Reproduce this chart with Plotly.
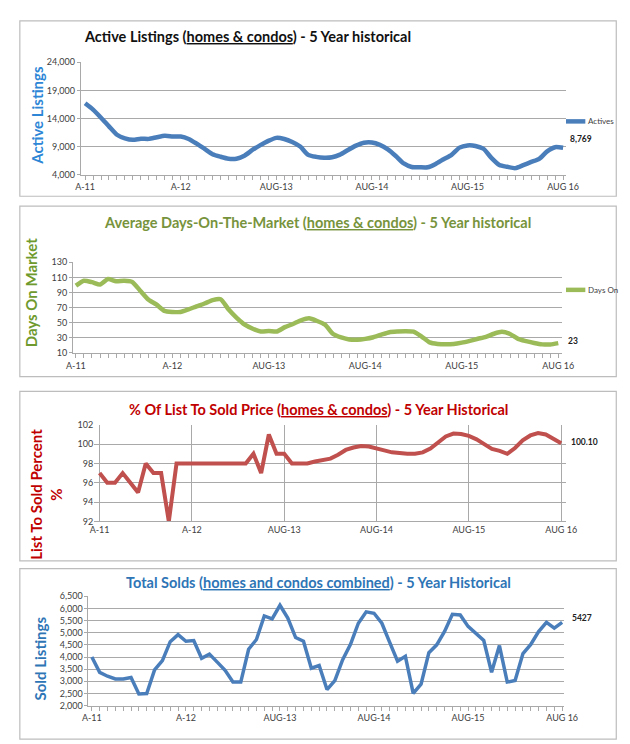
import plotly.graph_objects as go

W, H = 630, 744

# ---------------- data ----------------
tick_pos = [0, 12, 24, 36, 48, 60]
tick_text = ["A-11", "A-12", "AUG-13", "AUG-14", "AUG-15", "AUG 16"]

active_listings = [16700, 15570, 14130, 12590, 11100, 10460, 10190, 10380, 10360, 10650,
                   10900, 10800, 10780, 10340, 9510, 8580, 7630, 7180, 6830, 6830,
                   7360, 8380, 9240, 10000, 10540, 10340, 9810, 9000, 7520, 7160,
                   7000, 7080, 7560, 8390, 9150, 9680, 9720, 9300, 8490, 7310,
                   5980, 5350, 5300, 5300, 5900, 6740, 7520, 8800, 9190, 9100,
                   8600, 6970, 5690, 5380, 5150, 5680, 6250, 6800, 8140, 8880, 8769]

days_on_market = [99, 105.5, 103.7, 100.5, 107.8, 104.9, 105.5, 104, 92.4, 80.8,
                  74.2, 65.7, 64.3, 64.2, 67.6, 71.6, 75.4, 79.8, 81, 67.4,
                  56.4, 47.4, 42, 38.4, 39, 38.3, 44.1, 48.3, 53.2, 55.8,
                  52.3, 47.2, 35, 30.5, 27.8, 27.4, 28.6, 30.8, 34.2, 37.4,
                  38.3, 38.7, 38.1, 31.7, 23.9, 21.8, 21.3, 21.8, 23.6, 26,
                  28.7, 31.3, 35.4, 37.9, 35.1, 28.6, 25.6, 23.1, 21.3, 21.2, 23]

list_to_sold = [97, 96, 96, 97, 96, 95, 98, 97, 97, 92,
                98, 98, 98, 98, 98, 98, 98, 98, 98, 98,
                99, 97, 101, 99, 99, 98, 98, 98, 98.2, 98.3,
                98.5, 98.9, 99.4, 99.65, 99.8, 99.75, 99.6, 99.35, 99.15, 99.05,
                99, 99, 99.15, 99.55, 100.2, 100.8, 101.1, 101.05, 100.85, 100.5,
                100.0, 99.5, 99.3, 99.0, 99.6, 100.4, 100.9, 101.15, 101.0, 100.6, 100.1]

total_solds = [4000, 3370, 3210, 3100, 3100, 3160, 2480, 2500, 3470, 3850,
               4630, 4920, 4650, 4680, 3950, 4120, 3790, 3450, 2970, 2970,
               4320, 4720, 5690, 5570, 6130, 5600, 4800, 4650, 3540, 3650,
               2660, 3030, 3890, 4520, 5390, 5860, 5800, 5390, 4600, 3830,
               4030, 2500, 2880, 4180, 4500, 5050, 5760, 5730, 5260, 4990,
               4680, 3370, 4470, 2970, 3030, 4140, 4520, 5050, 5430, 5190, 5427]

last_labels = ["8,769", "23", "100.10", "5427"]
legend_names = ["Actives", "Days On", None, None]

# ---------------- helpers ----------------
def px(x):
    return x / W

def py(y):
    return 1 - y / H

FONT = "Lato, 'Open Sans', Arial, sans-serif"
GRID = "#a9a9a9"
TICKC = "#404040"

fig = go.Figure()

# panel geometry (pixels): axis start, grid end, line start, line end, y top, y bottom
panels = [
    dict(ax0=68, ax1=570, l0=72.5, l1=567, yt=49, yb=163, rng=[4000, 24000],
         yt_vals=[4000, 9000, 14000, 19000, 24000], fmt=",d", leg_y=109),
    dict(ax0=60, ax1=566, l0=63, l1=562, yt=252, yb=344, rng=[10, 130],
         yt_vals=[10, 30, 50, 70, 90, 110, 130], fmt="d", leg_y=280),
    dict(ax0=82, ax1=570, l0=87.5, l1=565, yt=417, yb=515, rng=[92, 102],
         yt_vals=[92, 94, 96, 98, 100, 102], fmt="d", leg_y=None),
    dict(ax0=76, ax1=568, l0=79.5, l1=566, yt=591, yb=702, rng=[2000, 6500],
         yt_vals=list(range(2000, 7000, 500)), fmt=",d", leg_y=None),
]

series = [active_listings, days_on_market, list_to_sold, total_solds]
colors = ["#4a7ebb", "#9bbb59", "#c0504d", "#4a7ebb"]
widths = [4.5, 4.5, 4, 3.5]
shapes_line = ["spline", "spline", "linear", "linear"]
ticked = (1, 2, 4)

ann = []
shapes = []

for i, (vals, p) in enumerate(zip(series, panels)):
    n = i + 1
    xs = list(range(len(vals)))
    line = dict(color=colors[i], width=widths[i], shape=shapes_line[i])
    if shapes_line[i] == "spline":
        line["smoothing"] = 0.6
    fig.add_trace(go.Scatter(x=xs, y=vals, mode="lines", name=legend_names[i] or "",
                             line=line, showlegend=False, hoverinfo="skip",
                             xaxis="x" if n == 1 else f"x{n}",
                             yaxis="y" if n == 1 else f"y{n}"))

    s = (p["l1"] - p["l0"]) / (len(vals) - 1)
    xr = [(p["ax0"] - p["l0"]) / s, (len(vals) - 1) + (p["ax1"] - p["l1"]) / s]

    xa = dict(domain=[px(p["ax0"]), px(p["ax1"])], range=xr, anchor="y" if n == 1 else f"y{n}",
              tickmode="array", tickvals=tick_pos, ticktext=tick_text,
              showgrid=(n == 3), gridcolor=GRID, gridwidth=1,
              showline=True, linecolor=GRID, linewidth=1, zeroline=False,
              tickfont=dict(family=FONT, size=9, color=TICKC), ticklen=0)
    if n in ticked:
        xa["ticks"] = "outside"
        xa["ticklen"] = 4
        xa["tickcolor"] = GRID
        xa["minor"] = dict(dtick=1, tick0=0, ticks="outside", ticklen=4, tickcolor=GRID, showgrid=False)
    ya = dict(domain=[py(p["yb"]), py(p["yt"])], range=p["rng"], anchor="x" if n == 1 else f"x{n}",
              tickmode="array", tickvals=p["yt_vals"], tickformat=p["fmt"],
              showgrid=True, gridcolor=GRID, gridwidth=1, zeroline=False,
              showline=(n in ticked), linecolor=GRID,
              ticks="outside" if n in ticked else "", ticklen=3, tickcolor=GRID,
              tickfont=dict(family=FONT, size=9, color=TICKC))
    fig.layout["xaxis" if n == 1 else f"xaxis{n}"] = xa
    fig.layout["yaxis" if n == 1 else f"yaxis{n}"] = ya

    # legend (sample line + name) for panels that have one
    if legend_names[i]:
        shapes.append(dict(type="line", xref="paper", yref="paper",
                           x0=px(570), x1=px(590), y0=py(p["leg_y"]), y1=py(p["leg_y"]),
                           line=dict(color=colors[i], width=widths[i])))
        ann.append(dict(text=legend_names[i], x=px(591), y=py(p["leg_y"]),
                        xref="paper", yref="paper", showarrow=False,
                        xanchor="left", yanchor="middle",
                        font=dict(family=FONT, size=8, color=TICKC)))

# ---------------- titles ----------------
titles = [
    ("Active Listings (<u>homes & condos</u>) - 5 Year historical", "#111111", 240, 23),
    ("Average Days-On-The-Market (<u>homes & condos</u>) - 5 Year historical", "#77933c", 313, 212),
    ("% Of List To Sold Price (<u>homes & condos</u>) - 5 Year Historical", "#c00000", 314, 401),
    ("Total Solds (<u>homes and condos combined</u>) - 5 Year Historical", "#2e75b6", 314, 577),
]
for t, c, x, y in titles:
    ann.append(dict(text=f"<b>{t}</b>", x=px(x), y=py(y), xref="paper", yref="paper",
                    showarrow=False, xanchor="center", yanchor="middle",
                    font=dict(family=FONT, size=14.5, color=c)))

ytitles = [
    ("Active Listings", "#2e86d6", 23, 103),
    ("Days On Market", "#6f9a2e", 16, 283),
    ("List To Sold Percent<br>%", "#c00000", 32, 487),
    ("Sold Listings", "#2e75b6", 26, 654),
]
for t, c, x, y in ytitles:
    ann.append(dict(text=f"<b>{t}</b>", x=px(x), y=py(y), xref="paper", yref="paper",
                    showarrow=False, textangle=-90, xanchor="center", yanchor="middle",
                    font=dict(family=FONT, size=15, color=c)))

shifts = [(5, 9), (8, 2), (8, 1), (8, 4)]
for i, vals in enumerate(series):
    n = i + 1
    ann.append(dict(text=f"<b>{last_labels[i]}</b>", x=len(vals) - 1, y=vals[-1],
                    xref="x" if n == 1 else f"x{n}", yref="y" if n == 1 else f"y{n}",
                    showarrow=False, xanchor="left", yanchor="middle",
                    xshift=shifts[i][0], yshift=shifts[i][1],
                    font=dict(family=FONT, size=8.5, color="#222222")))

# ---------------- panel boxes ----------------
boxes = [(5, 7, 622, 185), (5, 195, 622, 368), (5, 383, 622, 555), (5, 563, 622, 736)]
for x0, y0, x1, y1 in boxes:
    shapes.append(dict(type="rect", xref="paper", yref="paper",
                       x0=px(x0), x1=px(x1), y0=py(y1), y1=py(y0),
                       line=dict(color="#bdbdbd", width=1.2), layer="below"))

fig.update_layout(
    width=W, height=H,
    margin=dict(l=0, r=0, t=0, b=0),
    paper_bgcolor="white", plot_bgcolor="white",
    annotations=ann, shapes=shapes,
    showlegend=False,
)

fig.write_html("out.html")
